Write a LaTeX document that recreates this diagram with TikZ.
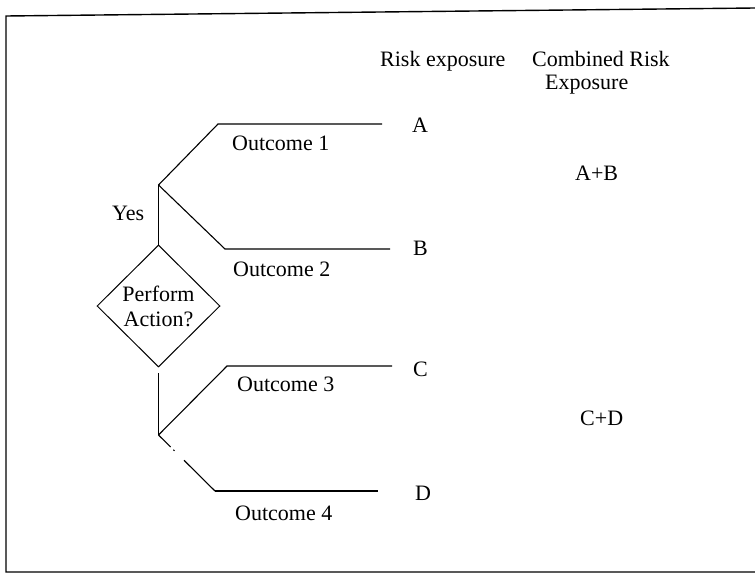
\documentclass[tikz,border=0pt]{standalone}
\usepackage{fontspec}
\setmainfont{Liberation Serif}
\usetikzlibrary{shapes.geometric}
\begin{document}
\begin{tikzpicture}[x=1pt,y=-1pt,
  every node/.style={font=\fontsize{22}{25}\selectfont, inner sep=0pt},
  lbl/.style={anchor=base west},
  branch/.style={line width=1.1pt},
  frame/.style={line width=1.4pt},
  decision/.style={diamond, draw, line width=1pt, minimum width=123pt,
                   minimum height=122pt, align=center},
  brokenline/.style={branch, dash pattern=on 17pt off 4pt on 1.5pt off 13.5pt on 60pt}]
\useasboundingbox (0,0) rectangle (755,575);

% outer frame (open on the right)
\draw[frame] (755,8) -- (6,16) -- (6,572) -- (755,572);

% column headings
\node[lbl] (hrisk) at (380,67) {Risk exposure};
\node[lbl] (hcomb1) at (532,67) {Combined Risk};
\node[lbl] (hcomb2) at (545,90) {Exposure};

% decision node
\node[decision] (act) at (158.5,306) {Perform\\Action?};

% junctions and branch end points
\coordinate (jyes) at (158.5,185);
\coordinate (jno) at (158.5,435);
\coordinate (gap) at (158.5,373);
\coordinate (o1a) at (218,124);
\coordinate (o1b) at (382,124);
\coordinate (o2a) at (225,249);
\coordinate (o2b) at (390,249);
\coordinate (o3a) at (227,366);
\coordinate (o3b) at (392,366);
\coordinate (o4a) at (215,491);
\coordinate (o4b) at (378,491);

% tree
\draw[branch] (act.north) -- (jyes);
\draw[branch] (gap) -- (jno);
\draw[branch] (jyes) -- (o1a) -- (o1b);
\draw[branch] (jyes) -- (o2a) -- (o2b);
\draw[branch] (jno) -- (o3a) -- (o3b);
\draw[brokenline] (jno) -- (o4a);
\draw[branch] (o4a) -- (o4b);

% branch labels
\node[lbl] (yes) at (112,220) {Yes};
\node[lbl] (out1) at (232,150) {Outcome 1};
\node[lbl] (out2) at (233,276.5) {Outcome 2};
\node[lbl] (out3) at (237,391.5) {Outcome 3};
\node[lbl] (out4) at (235,520) {Outcome 4};

% risk exposures
\node[lbl] (ra) at (412,133) {A};
\node[lbl] (rb) at (413,255) {B};
\node[lbl] (rc) at (413,376) {C};
\node[lbl] (rd) at (415,500) {D};

% combined exposures
\node[lbl] (rab) at (575,180) {A+B};
\node[lbl] (rcd) at (580,425) {C+D};
\end{tikzpicture}
\end{document}
